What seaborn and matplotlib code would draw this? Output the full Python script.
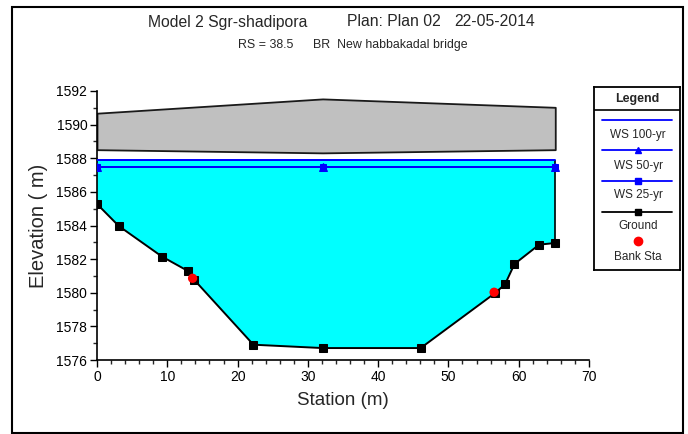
import numpy as np
import pandas as pd
import matplotlib
matplotlib.use("Agg")
import matplotlib.pyplot as plt
from matplotlib.ticker import MultipleLocator
from matplotlib.patches import Rectangle
import seaborn as sns

# ---- data ----
ground_station = [0.0, 3.1, 9.25, 13.0, 13.85, 22.25, 32.1, 46.05, 56.6, 58.05, 59.4, 62.9, 65.2]
ground_elev = [1585.28, 1583.97, 1582.15, 1581.28, 1580.76, 1576.91, 1576.71, 1576.71,
               1579.97, 1580.5, 1581.71, 1582.86, 1582.96]
bank_station = [13.6, 56.5]
bank_elev = [1580.86, 1580.03]
ws_station = [0.0, 32.1, 65.2]
ws100 = [1587.92, 1587.92, 1587.92]
ws50 = [1587.46, 1587.46, 1587.46]
ws25 = [1587.46, 1587.46, 1587.46]
deck_station = [0.0, 32.1, 65.2]
deck_high = [1590.68, 1591.53, 1591.03]
deck_low = [1588.51, 1588.32, 1588.51]
legend_labels = ["WS 100-yr", "WS 50-yr", "WS 25-yr", "Ground", "Bank Sta"]

sns.set_style("ticks")
plt.rcParams['font.family'] = ['Liberation Sans', 'DejaVu Sans']

W, H = 688, 434
fig = plt.figure(figsize=(W / 100, H / 100), dpi=100)
ax = fig.add_axes([97 / W, 1 - 360 / H, (589 - 97) / W, (360 - 91) / H])

# bridge deck
ax.fill_between(deck_station, deck_low, deck_high, facecolor="#C0C0C0",
                edgecolor="#1a1a1a", linewidth=1.3, zorder=2)

# water fill from ground to WS 100
ws_level = np.interp(ground_station, ws_station, ws100)
ax.fill_between(ground_station, ground_elev, ws_level, facecolor="#00FFFF",
                edgecolor="none", zorder=1)
ax.vlines(ground_station[-1], ground_elev[-1], ws100[-1], color="black", lw=1.2, zorder=3)

df_ws = pd.DataFrame({"x": ws_station, "w100": ws100, "w50": ws50, "w25": ws25})
sns.lineplot(data=df_ws, x="x", y="w100", color="#0000FF", lw=1.4, ax=ax, zorder=4)
sns.lineplot(data=df_ws, x="x", y="w50", color="#0000FF", lw=1.4, marker="^",
             markersize=6, markeredgecolor="#0000FF", ax=ax, zorder=5)
sns.lineplot(data=df_ws, x="x", y="w25", color="#0000FF", lw=1.4, marker="s",
             markersize=5, markeredgecolor="#0000FF", ax=ax, zorder=5)

df_g = pd.DataFrame({"x": ground_station, "y": ground_elev})
sns.lineplot(data=df_g, x="x", y="y", color="black", lw=1.4, marker="s",
             markersize=6, markeredgecolor="black", ax=ax, zorder=6)

df_b = pd.DataFrame({"x": bank_station, "y": bank_elev})
sns.scatterplot(data=df_b, x="x", y="y", color="#FF0000", s=45, edgecolor="none",
                ax=ax, zorder=7)

ax.set_xlim(0, 70)
ax.set_ylim(1576, 1592)
ax.xaxis.set_major_locator(MultipleLocator(10))
ax.xaxis.set_minor_locator(MultipleLocator(2))
ax.yaxis.set_major_locator(MultipleLocator(2))
ax.yaxis.set_minor_locator(MultipleLocator(1))
ax.tick_params(axis="both", which="major", length=5, width=1, labelsize=10, pad=2, colors="black")
ax.tick_params(axis="both", which="minor", length=3, width=1)
for s in ["top", "right"]:
    ax.spines[s].set_visible(False)
for s in ["left", "bottom"]:
    ax.spines[s].set_linewidth(1.2)
    ax.spines[s].set_color("black")
ax.set_facecolor("white")
ax.set_xlabel("Station (m)", fontsize=13.5, labelpad=6)
ax.set_ylabel("Elevation ( m)", fontsize=14.5, labelpad=6)

# titles
fig.text(148 / W, 1 - 22 / H, "Model 2 Sgr-shadipora", fontsize=11.3, ha="left", va="center")
fig.text(347 / W, 1 - 22 / H, "Plan: Plan 02", fontsize=11.3, ha="left", va="center")
fig.text(454 / W, 1 - 22 / H, "22-05-2014", fontsize=11.3, ha="left", va="center")
fig.text(238 / W, 1 - 45 / H, "RS = 38.5", fontsize=8.9, ha="left", va="center")
fig.text(313 / W, 1 - 45 / H, "BR  New habbakadal bridge", fontsize=8.9, ha="left", va="center")

# outer frame
fig.patches.append(Rectangle((12 / W, 1 / H), (683 - 12) / W, (427 - 1) / H,
                             transform=fig.transFigure, fill=False, edgecolor="black", lw=1.5))

# legend box (drawn manually)
lx0, lx1, ly0, ly1 = 594, 680, 87, 270
lax = fig.add_axes([lx0 / W, 1 - ly1 / H, (lx1 - lx0) / W, (ly1 - ly0) / H])
lax.set_xlim(lx0, lx1)
lax.set_ylim(ly1, ly0)
lax.set_xticks([])
lax.set_yticks([])
for s in lax.spines.values():
    s.set_linewidth(1.3)
    s.set_color("black")
lax.text((lx0 + lx1) / 2, 99, "Legend", fontsize=9, fontweight="bold", ha="center", va="center")
lax.plot([lx0, lx1], [110, 110], color="black", lw=1.2)
lx_a, lx_b, lxm = 602, 672, 638
lax.plot([lx_a, lx_b], [120, 120], color="#0000FF", lw=1.3)
lax.text(lxm, 135, legend_labels[0], fontsize=8.5, ha="center", va="center")
lax.plot([lx_a, lx_b], [150, 150], color="#0000FF", lw=1.3)
lax.plot([lxm], [150], marker="^", color="#0000FF", markersize=5)
lax.text(lxm, 166, legend_labels[1], fontsize=8.5, ha="center", va="center")
lax.plot([lx_a, lx_b], [180.7, 180.7], color="#0000FF", lw=1.3)
lax.plot([lxm], [180.7], marker="s", color="#0000FF", markersize=4)
lax.text(lxm, 195, legend_labels[2], fontsize=8.5, ha="center", va="center")
lax.plot([lx_a, lx_b], [211.7, 211.7], color="black", lw=1.3)
lax.plot([lxm], [211.7], marker="s", color="black", markersize=5)
lax.text(lxm, 226, legend_labels[3], fontsize=8.5, ha="center", va="center")
lax.plot([lxm], [240.7], marker="o", color="#FF0000", markersize=6)
lax.text(lxm, 256.5, legend_labels[4], fontsize=8.5, ha="center", va="center")

fig.savefig("out.png", dpi=100, facecolor="white")
